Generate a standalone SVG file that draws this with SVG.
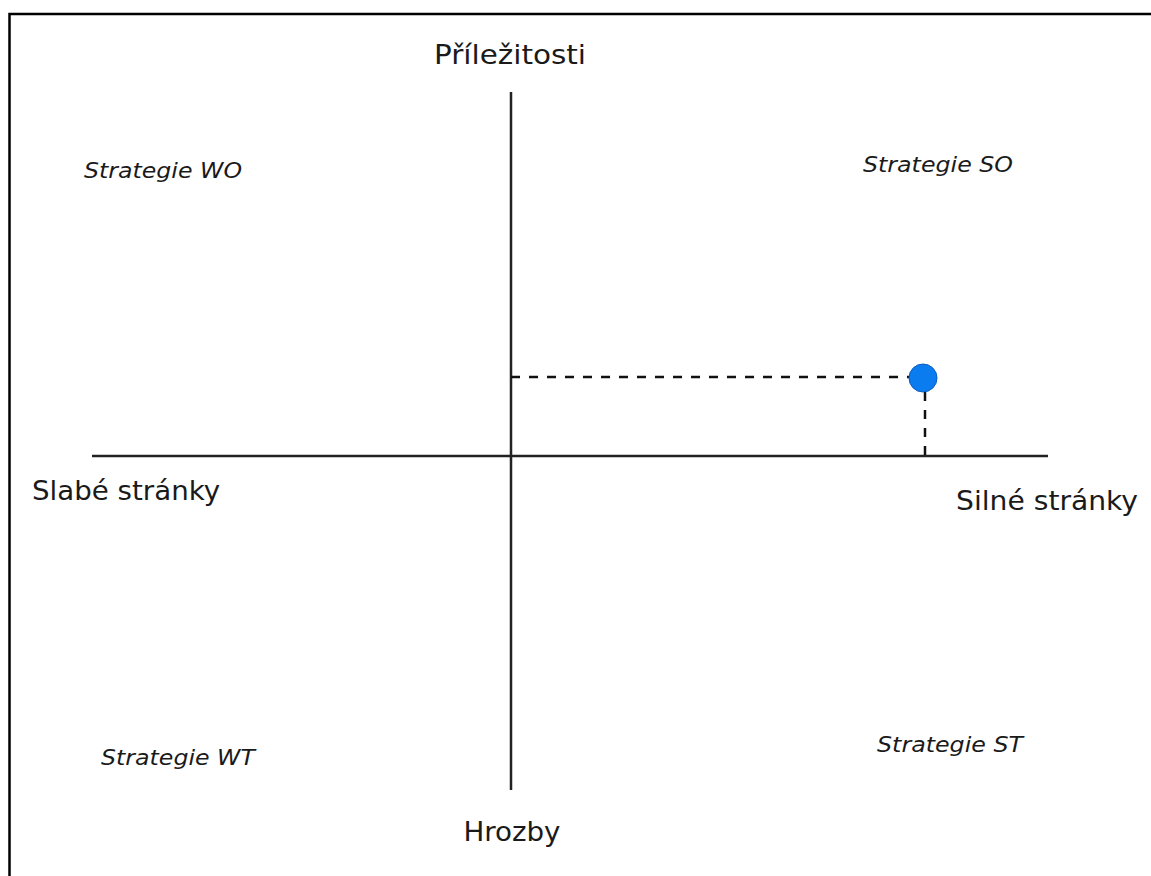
<svg xmlns="http://www.w3.org/2000/svg" width="1151" height="876" viewBox="0 0 1151 876">
<style>
.lbl{font-family:"DejaVu Sans Condensed","DejaVu Sans","Liberation Sans",sans-serif;font-stretch:condensed;font-size:27px;fill:#1a1a1a;text-anchor:middle}
.strat{font-family:"DejaVu Sans Condensed","DejaVu Sans","Liberation Sans",sans-serif;font-stretch:condensed;font-size:21px;font-style:italic;fill:#1a1a1a;text-anchor:middle}
.axis{stroke:#222;stroke-width:2.5;fill:none}
.dash{stroke:#111;stroke-width:2.5;stroke-dasharray:9,9;fill:none}
</style>
<rect width="1151" height="876" fill="#fff"/>
<path d="M9.5,876 V14 H1151" stroke="#000" stroke-width="2.5" fill="none"/>
<g id="connectors">
<line class="axis" x1="511" y1="92" x2="511" y2="790"/>
<line class="axis" x1="92" y1="456" x2="1048" y2="456"/>
<line class="dash" x1="511" y1="377" x2="910" y2="377"/>
<line class="dash" x1="925" y1="392" x2="925" y2="456"/>
</g>
<g id="point"><circle cx="923" cy="378" r="14" fill="#0a7cf0" stroke="#0a5cc0" stroke-width="1"/></g>
<g id="prilezitosti"><text class="lbl" x="510" y="64" textLength="152" lengthAdjust="spacingAndGlyphs">Příležitosti</text></g>
<g id="slabe"><text class="lbl" x="126" y="500" textLength="188" lengthAdjust="spacingAndGlyphs">Slabé stránky</text></g>
<g id="silne"><text class="lbl" x="1047" y="510" textLength="182" lengthAdjust="spacingAndGlyphs">Silné stránky</text></g>
<g id="hrozby"><text class="lbl" x="512" y="841" textLength="97" lengthAdjust="spacingAndGlyphs">Hrozby</text></g>
<g id="wo"><text class="strat" x="163" y="178" textLength="158" lengthAdjust="spacingAndGlyphs">Strategie WO</text></g>
<g id="so"><text class="strat" x="938" y="172" textLength="150" lengthAdjust="spacingAndGlyphs">Strategie SO</text></g>
<g id="wt"><text class="strat" x="178" y="765" textLength="154" lengthAdjust="spacingAndGlyphs">Strategie WT</text></g>
<g id="st"><text class="strat" x="950" y="752" textLength="146" lengthAdjust="spacingAndGlyphs">Strategie ST</text></g>
</svg>
